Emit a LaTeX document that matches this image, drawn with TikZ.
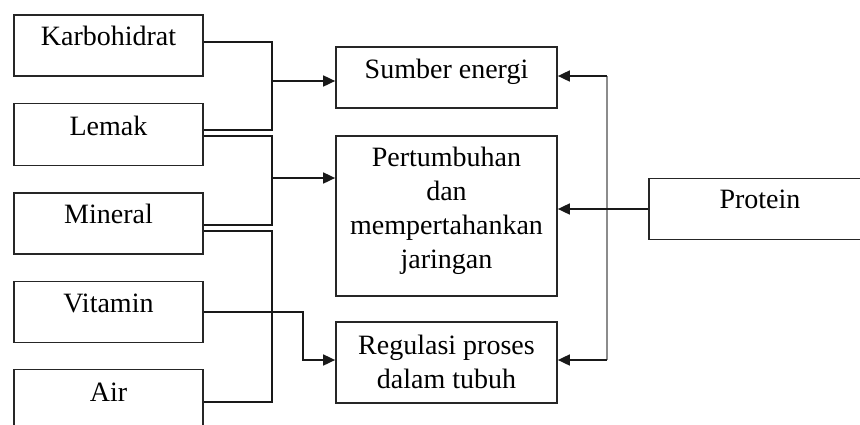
\documentclass[tikz,border=0pt]{standalone}
\usepackage{fontspec}
\setmainfont{Liberation Serif}
\usetikzlibrary{arrows.meta,calc}
\begin{document}
\begin{tikzpicture}[x=1bp,y=-1bp,
  box/.style={draw=black!85, line width=1.7bp, inner sep=0pt, rectangle},
  srcbox/.style={box, minimum width=189bp, minimum height=61bp},
  tgtbox/.style={box, minimum width=221bp},
  lbl/.style={inner sep=0pt, anchor=base, align=center,
    font=\fontsize{28bp}{33.7bp}\selectfont},
  conn/.style={line width=1.7bp, black!90},
  arr/.style={conn, -{Triangle[length=12bp,width=11bp]}},
  bus/.style={line width=2.4bp, black!45}]
\useasboundingbox (0,0) rectangle (860,424);
\begin{scope}
\clip (0,0) rectangle (860,424);

% nutrient sources (left column)
\node[srcbox] (kar) at (108.5,45.5) {};
\node[srcbox, minimum height=62bp] (lem) at (108.5,134.5) {};
\node[srcbox] (min) at (108.5,223.5) {};
\node[srcbox] (vit) at (108.5,312) {};
\node[srcbox] (air) at (108.5,400) {};
\node[lbl] (tkar) at (108.5,45) {Karbohidrat};
\node[lbl] (tlem) at (108.5,135) {Lemak};
\node[lbl] (tmin) at (108.5,223) {Mineral};
\node[lbl] (tvit) at (108.5,312) {Vitamin};
\node[lbl] (tair) at (108.5,401) {Air};

% functions (middle column); multi-line labels sit on their last baseline
\node[tgtbox, minimum height=61bp] (sum) at (446.5,77.5) {};
\node[tgtbox, minimum height=160bp] (pert) at (446.5,216) {};
\node[tgtbox, minimum height=81bp] (reg) at (446.5,362.5) {};
\node[lbl] (tsum) at (446.5,78) {Sumber energi};
\node[lbl] (tpert) at (446.5,268) {Pertumbuhan\\dan\\mempertahankan\\jaringan};
\node[lbl] (treg) at (446.5,388.5) {Regulasi proses\\dalam tubuh};

% protein (right), running past the frame
\node[box, minimum width=300bp, minimum height=61bp] (pro) at (799,209) {};
\node[lbl] (tpro) at (760,208) {Protein};

% junction columns
\coordinate (busA) at (272,0);
\coordinate (k1) at ($(kar.east)+(0,-3.5)$);
\coordinate (l1) at ($(lem.east)+(0,-4.5)$);
\coordinate (l2) at ($(lem.east)+(0,1.5)$);
\coordinate (m1) at ($(min.east)+(0,1.5)$);
\coordinate (m2) at ($(min.east)+(0,7.5)$);
\coordinate (a1) at ($(air.east)+(0,2)$);
\coordinate (jA) at (272,81);
\coordinate (jB) at (272,178);
\coordinate (jV) at (303,360);
\coordinate (pTop) at (607,76);
\coordinate (pBot) at (607,360);

% carbohydrate + fat -> energy
\draw[conn] (k1) -- (k1 -| busA) -- (l1 -| busA) -- (l1);
\draw[arr] (jA) -- (sum.west |- jA);
% fat + mineral -> growth
\draw[conn] (l2) -- (l2 -| busA) -- (m1 -| busA) -- (m1);
\draw[arr] (jB) -- (pert.west |- jB);
% mineral + water bracket
\draw[conn] (m2) -- (m2 -| busA) -- (a1 -| busA) -- (a1);
% vitamin -> regulation
\draw[arr] (vit.east) -| (jV) -- (reg.west |- jV);

% protein -> all three functions
\draw[bus] (pTop) -- (pBot);
\draw[arr] (pro.west) -- (pert.east |- pro.west);
\draw[arr] (pTop) -- (sum.east |- pTop);
\draw[arr] (pBot) -- (reg.east |- pBot);
\end{scope}
\end{tikzpicture}
\end{document}
